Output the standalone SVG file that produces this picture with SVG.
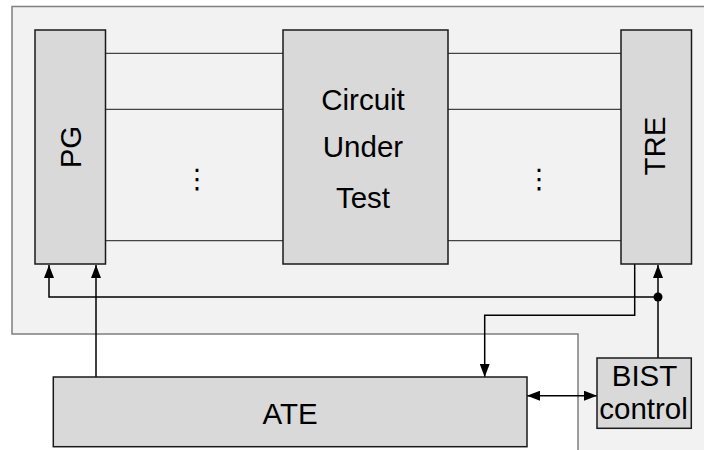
<svg xmlns="http://www.w3.org/2000/svg" width="704" height="450" viewBox="0 0 704 450">
<defs>
<style>
.box{fill:#d9d9d9;stroke:#1a1a1a;stroke-width:1.5}
.t{font-family:"Liberation Sans",Arial,sans-serif;font-size:29.5px;fill:#000;text-anchor:middle}
.bus{stroke:#444;stroke-width:1.3;fill:none}
.c{stroke:#000;stroke-width:1.5;fill:none}
.d{font-family:"DejaVu Sans",sans-serif;font-size:27px;fill:#000;text-anchor:middle}
</style>
<marker id="ah" viewBox="0 0 13 10" refX="13" refY="5" markerWidth="13" markerHeight="10" markerUnits="userSpaceOnUse" orient="auto-start-reverse">
<path d="M0,0 L13,5 L0,10 Z" fill="#000"/>
</marker>
</defs>
<rect width="704" height="450" fill="#fff"/>
<polygon points="12,6.5 708,6.5 708,454 578,454 578,334 12,334" fill="#f2f2f2" stroke="#7f7f7f" stroke-width="1.5"/>
<g id="connectors">
<line class="bus" x1="105" y1="53.3" x2="283" y2="53.3"/>
<line class="bus" x1="105" y1="109.3" x2="283" y2="109.3"/>
<line class="bus" x1="105" y1="240.7" x2="283" y2="240.7"/>
<line class="bus" x1="448" y1="53.3" x2="621" y2="53.3"/>
<line class="bus" x1="448" y1="109.3" x2="621" y2="109.3"/>
<line class="bus" x1="448" y1="240.7" x2="621" y2="240.7"/>
<polyline class="c" points="658,297 49,297 49,265" marker-end="url(#ah)"/>
<line class="c" x1="96" y1="377" x2="96" y2="265" marker-end="url(#ah)"/>
<line class="c" x1="658" y1="358" x2="658" y2="265" marker-end="url(#ah)"/>
<circle cx="658" cy="297" r="4.5" fill="#000"/>
<polyline class="c" points="634.7,264 634.7,315.3 484.7,315.3 484.7,377" marker-end="url(#ah)"/>
<line class="c" x1="527" y1="395.7" x2="597" y2="395.7" marker-start="url(#ah)" marker-end="url(#ah)"/>
</g>
<g id="pg">
<rect class="box" x="35" y="30" width="70.5" height="234"/>
<text class="t" transform="translate(80.5,147) rotate(-90)">PG</text>
</g>
<g id="cut">
<rect class="box" x="283" y="30" width="165" height="234"/>
<text class="t" x="363" y="110">Circuit</text>
<text class="t" x="363" y="156.7">Under</text>
<text class="t" x="363" y="207.7">Test</text>
</g>
<g id="tre">
<rect class="box" x="621" y="30" width="70.5" height="234"/>
<text class="t" transform="translate(665.3,146) rotate(-90)">TRE</text>
</g>
<g id="dots">
<text class="d" x="197" y="188">⋮</text>
<text class="d" x="539" y="188">⋮</text>
</g>
<g id="ate">
<rect class="box" x="53.3" y="377" width="473.7" height="69.7"/>
<text class="t" x="290" y="424.3">ATE</text>
</g>
<g id="bist">
<rect class="box" x="597" y="358" width="94.3" height="70.3"/>
<text class="t" x="644.5" y="386">BIST</text>
<text class="t" x="643.5" y="419.3">control</text>
</g>
</svg>
